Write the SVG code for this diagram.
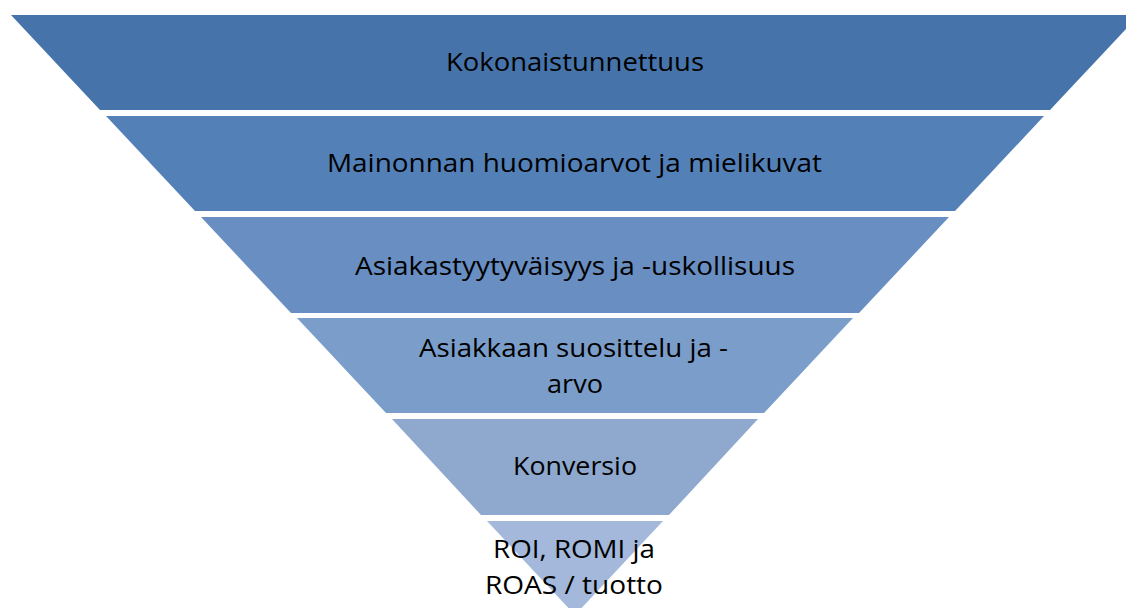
<svg xmlns="http://www.w3.org/2000/svg" width="1126" height="608" viewBox="0 0 1126 608">
<style>
.t{font-family:"Open Sans","Liberation Sans",Arial,sans-serif;font-size:25px;fill:#000;}
</style>
<rect width="1126" height="608" fill="#fff"/>
<g id="layer1"><polygon points="11,15 1139,15 1050,110 100,110" fill="#4674AA"/>
<text class="t" x="446" y="71" textLength="258" lengthAdjust="spacingAndGlyphs">Kokonaistunnettuus</text></g>
<g id="layer2"><polygon points="106,116 1044,116 955,211 195,211" fill="#5480B8"/>
<text class="t" x="327" y="172" textLength="495" lengthAdjust="spacingAndGlyphs">Mainonnan huomioarvot ja mielikuvat</text></g>
<g id="layer3"><polygon points="201,217 949,217 859,313 291,313" fill="#688EC2"/>
<text class="t" x="355" y="275" textLength="440" lengthAdjust="spacingAndGlyphs">Asiakastyytyväisyys ja -uskollisuus</text></g>
<g id="layer4"><polygon points="297,318 853,318 764,413 386,413" fill="#7B9DC9"/>
<text class="t" x="419" y="357" textLength="309" lengthAdjust="spacingAndGlyphs">Asiakkaan suosittelu ja -</text>
<text class="t" x="547" y="393" textLength="56" lengthAdjust="spacingAndGlyphs">arvo</text></g>
<g id="layer5"><polygon points="392,419 758,419 669,515 481,515" fill="#8EA8CE"/>
<text class="t" x="513" y="475" textLength="124" lengthAdjust="spacingAndGlyphs">Konversio</text></g>
<g id="layer6"><polygon points="487,521 663,521 575,615" fill="#A3B8DA"/>
<text class="t" x="493" y="558" textLength="162" lengthAdjust="spacingAndGlyphs">ROI, ROMI ja</text>
<text class="t" x="485" y="594" textLength="178" lengthAdjust="spacingAndGlyphs">ROAS / tuotto</text></g>
<g id="connectors"></g>
</svg>
